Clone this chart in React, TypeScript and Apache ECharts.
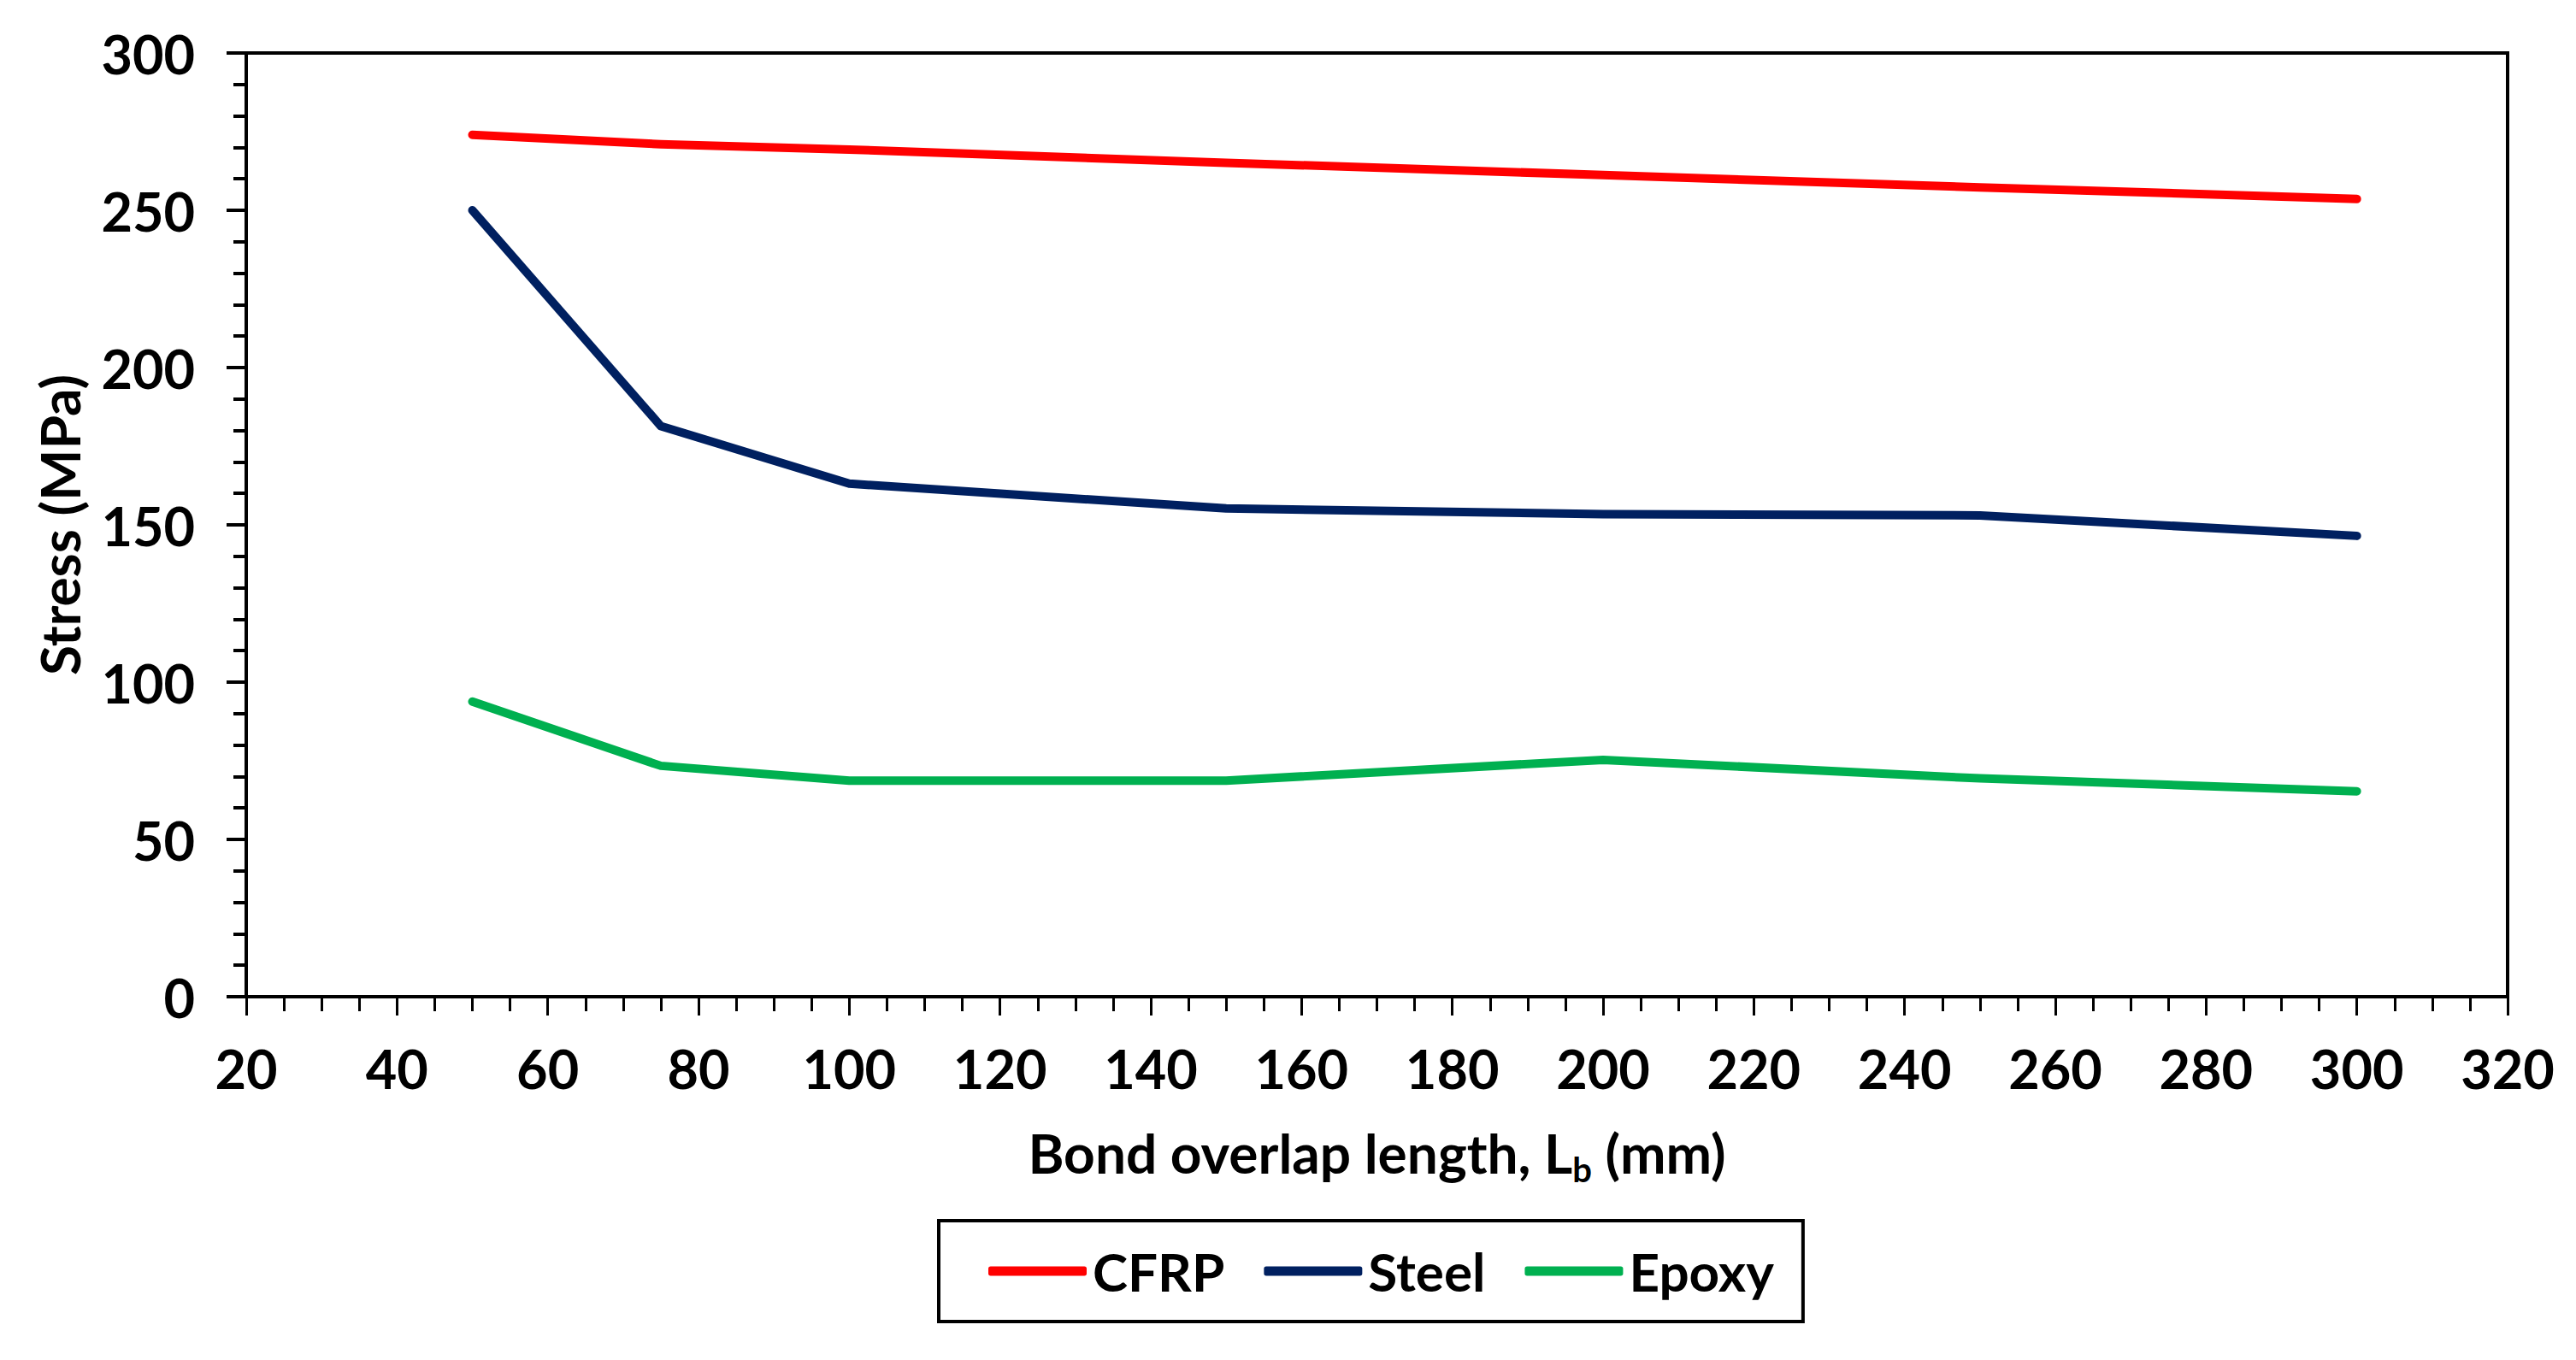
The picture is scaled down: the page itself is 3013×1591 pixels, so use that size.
import React, { useEffect, useRef } from "react";
import * as echarts from "echarts";

const xValues = [50, 75, 100, 150, 200, 250, 300];
const cfrpValues = [274, 271, 269.3, 265.1, 261.2, 257.3, 253.6];
const steelValues = [250, 181.4, 163.1, 155.2, 153.4, 153.0, 146.5];
const epoxyValues = [93.8, 73.4, 68.7, 68.7, 75.3, 69.4, 65.3];
const seriesNames = ["CFRP", "Steel", "Epoxy"];
const seriesColors = ["#FF0000", "#002060", "#00B050"];

const FONT = "Lato, 'Liberation Sans', sans-serif";

export default function App() {
  const ref = useRef<HTMLDivElement>(null);
  useEffect(() => {
    document.body.style.margin = "0";
    if (!ref.current) return;
    const chart = echarts.init(ref.current, undefined, { renderer: "svg" });
    const allValues = [cfrpValues, steelValues, epoxyValues];
    const option = {
      animation: false,
      backgroundColor: "#ffffff",
      textStyle: { fontFamily: FONT },
      grid: {
        left: 288,
        top: 62,
        width: 2645,
        height: 1104,
        show: true,
        borderColor: "#000",
        borderWidth: 4,
        backgroundColor: "transparent",
      },
      legend: {
        data: seriesNames,
        left: 1098,
        top: 1428,
        orient: "horizontal",
        borderColor: "#000",
        borderWidth: 4,
        padding: [28, 34, 28, 58],
        icon: "roundRect",
        itemWidth: 115,
        itemHeight: 11,
        itemGap: 46,
        textStyle: { fontFamily: FONT, fontSize: 62, fontWeight: "bold", color: "#000", padding: [0, 0, 0, 2] },
      },
      xAxis: {
        type: "value",
        min: 20,
        max: 320,
        interval: 20,
        name: "{a|Bond overlap length, L}{b|b}{a| (mm)}",
        nameLocation: "middle",
        nameGap: 142,
        nameTextStyle: {
          rich: {
            a: { fontFamily: FONT, fontSize: 64, fontWeight: "bold", color: "#000", lineHeight: 80 },
            b: { fontFamily: FONT, fontSize: 40, fontWeight: "bold", color: "#000", lineHeight: 44, verticalAlign: "bottom" },
          },
        },
        axisLine: { show: true, lineStyle: { color: "#000", width: 4 } },
        axisTick: { show: true, inside: false, length: 22, lineStyle: { color: "#000", width: 3 } },
        minorTick: { show: true, splitNumber: 4, length: 17, lineStyle: { color: "#000", width: 3 } },
        splitLine: { show: false },
        axisLabel: { fontFamily: FONT, fontSize: 63, fontWeight: "bold", color: "#000", margin: 52 },
      },
      yAxis: {
        type: "value",
        min: 0,
        max: 300,
        interval: 50,
        name: "Stress (MPa)",
        nameLocation: "middle",
        nameRotate: 90,
        nameGap: 187,
        nameTextStyle: { fontFamily: FONT, fontSize: 64, fontWeight: "bold", color: "#000", lineHeight: 64 },
        axisLine: { show: true, lineStyle: { color: "#000", width: 4 } },
        axisTick: { show: true, inside: false, length: 23, lineStyle: { color: "#000", width: 4 } },
        minorTick: { show: true, splitNumber: 5, length: 15, lineStyle: { color: "#000", width: 4 } },
        splitLine: { show: false },
        axisLabel: { fontFamily: FONT, fontSize: 63, fontWeight: "bold", color: "#000", margin: 60 },
      },
      series: seriesNames.map((name, s) => ({
        name,
        type: "line",
        data: xValues.map((x, i) => [x, allValues[s][i]]),
        showSymbol: false,
        symbol: "none",
        color: seriesColors[s],
        itemStyle: { color: seriesColors[s] },
        lineStyle: { color: seriesColors[s], width: 10, cap: "round", join: "round" },
      })),
    };
    chart.setOption(option as any);
    return () => chart.dispose();
  }, []);
  return <div ref={ref} style={{ width: 3013, height: 1591 }} />;
}
